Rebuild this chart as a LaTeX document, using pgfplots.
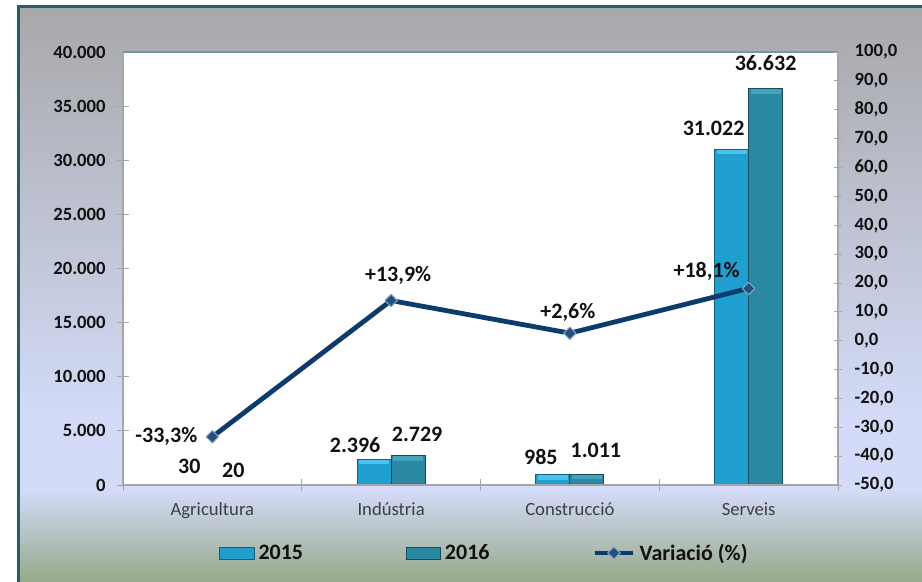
\documentclass[border=0pt]{standalone}
\usepackage{fontspec}
\setmainfont{Carlito}
\usepackage{pgfplots}
\pgfplotsset{compat=1.18}
\usepackage{pgfplotstable}

\definecolor{bandgray}{HTML}{A8A8AA}
\definecolor{lav}{HTML}{D3DBF8}
\definecolor{sage}{HTML}{96A889}
\definecolor{frame}{HTML}{245E6B}
\definecolor{topedge}{HTML}{6E9AA2}
\definecolor{cA}{HTML}{1E9FCF}
\definecolor{cB}{HTML}{2B88A2}
\definecolor{bevA}{HTML}{4CC3EC}
\definecolor{bevB}{HTML}{42A3BD}
\definecolor{navy}{HTML}{0E3B6E}
\definecolor{mk}{HTML}{24507F}
\definecolor{mkedge}{HTML}{8AA6C0}
\definecolor{ink}{HTML}{111111}
\definecolor{cat}{HTML}{404040}

\pgfplotsset{
  linelegend/.style={legend image code/.code={%
    \draw[##1, mark repeat=2, mark phase=2] plot coordinates {(0pt,0pt) (14.5pt,0pt) (29pt,0pt)};}},
  barlabels/.style={
    nodes near coords={\pgfmathprintnumber[assume math mode=true,1000 sep={.}]{\pgfplotspointmeta}},
    visualization depends on={\thisrow{dx}\as\dx},
    visualization depends on={\thisrow{rise}\as\rise},
    every node near coord/.append style={font=\fontsize{16.5}{18}\selectfont\bfseries, text=ink,
      anchor=center, xshift=\dx*0.75pt, yshift=\rise*0.75pt}},
  bevel/.style={sharp plot, only marks, mark=-, mark size=11.3pt,
    skip coords between index={0}{1}},
}

% employed: x, value, label shift (px), rise above bar top (px)
\pgfplotstableread{
x y dx rise
0 30 -6 18
1 2396 -19 14
2 985 -12 17
3 31022 -18 21
}\tabA
\pgfplotstableread{
x y dx rise
0 20 4 14
1 2729 9 21
2 1011 9 24
3 36632 0 25
}\tabB
% variation, %
\pgfplotstableread{
x y lab dx dy
0 -33.3 -33,3 -46 0
1 13.9 +13,9 7 -25
2 2.6 +2,6 -2 -21
3 18.1 +18,1 -42 -17
}\tabL

\begin{document}
\begin{tikzpicture}
\useasboundingbox (0,0) rectangle (691.5pt,-436.5pt);
\fill[white] (0,0) rectangle (691.5pt,-436.5pt);
% chart area background
\shade[top color=bandgray, bottom color=lav] (13.5pt,-5pt) rectangle (691.5pt,-315pt);
\fill[lav] (13.5pt,-314.8pt) rectangle (691.5pt,-367.7pt);
\shade[top color=lav, bottom color=sage] (13.5pt,-367.5pt) rectangle (691.5pt,-436.5pt);
\draw[frame, line width=2.4pt] (14pt,-436.5pt) -- (14pt,-5pt) -- (691.5pt,-5pt);

\begin{axis}[
  at={(92.25pt,-363.75pt)}, anchor=south west,
  scale only axis, width=536.25pt, height=324.75pt,
  clip=false,
  ybar,
  xmin=-0.5, xmax=3.5, ymin=0, ymax=40000,
  xtick={-0.5,0.5,1.5,2.5,3.5}, xticklabels={},
  extra x ticks={0,1,2,3},
  extra x tick labels={Agricultura,Indústria,Construcció,Serveis},
  extra x tick style={major tick length=0pt,
    tick label style={font=\fontsize{14}{16}\selectfont, text=cat, yshift=-9.5pt}},
  ytick={0,5000,...,40000},
  scaled y ticks=false,
  xtick pos=bottom, ytick pos=left,
  tick align=center, major tick length=9pt,
  tick style={draw=black!35, line width=0.6pt},
  axis line style={draw=none},
  axis background/.style={fill=white},
  /pgf/number format/assume math mode=true,
  /pgf/number format/1000 sep={.},
  yticklabel style={font=\fontsize{14}{16}\selectfont\bfseries, text=ink, xshift=-5pt},
]
\addplot[fill=cA, draw=cA!60!black, line width=0.6pt, bar width=25.5pt, bar shift=-12.75pt, barlabels]
  table[x=x,y=y] {\tabA};
\addplot[fill=cB, draw=cB!55!black, line width=0.6pt, bar width=25.5pt, bar shift=12.75pt, barlabels]
  table[x=x,y=y] {\tabB};
% lighter bevel along the top of each bar
\addplot[bevel, mark options={xshift=-12.75pt, yshift=-2.2pt, draw=bevA, line width=3.4pt}]
  table[x=x,y=y] {\tabA};
\addplot[bevel, mark options={xshift=12.75pt, yshift=-2.2pt, draw=bevB, line width=3.4pt}]
  table[x=x,y=y] {\tabB};
\draw[black!35, line width=0.8pt] (rel axis cs:0,0) -- (rel axis cs:0,1);
\draw[black!35, line width=0.8pt] (rel axis cs:0,0) -- (rel axis cs:1,0);
\draw[topedge, line width=1.3pt] (rel axis cs:0,1) -- (rel axis cs:1,1);
\end{axis}

\begin{axis}[
  at={(92.25pt,-363.75pt)}, anchor=south west,
  scale only axis, width=536.25pt, height=324.75pt,
  clip=false,
  xmin=-0.5, xmax=3.5, ymin=-50, ymax=100,
  hide x axis,
  ytick={-50,-40,...,100},
  ytick pos=right,
  tick align=center, major tick length=6pt,
  tick style={draw=black!35, line width=0.6pt},
  axis line style={draw=none},
  /pgf/number format/.cd, fixed, fixed zerofill, precision=1, use comma, assume math mode=true,
  /pgfplots/.cd,
  yticklabel style={font=\fontsize{14}{16}\selectfont\bfseries, text=ink, xshift=6pt},
  legend columns=3,
  legend style={at={(0.506,-0.157)}, anchor=center, draw=none, fill=none,
    font=\fontsize{16.5}{18}\selectfont\bfseries, text=ink,
    nodes={inner sep=2pt},
    /tikz/every odd column/.append style={column sep=1pt},
    /tikz/every even column/.append style={column sep=75pt}},
]
\addlegendimage{legend image code/.code={\fill[cA] (0pt,-4.5pt) rectangle (26pt,4.5pt);
  \draw[cA!60!black, line width=0.4pt] (0pt,-4.5pt) rectangle (26pt,4.5pt);}}
\addlegendentry{2015}
\addlegendimage{legend image code/.code={\fill[cB] (0pt,-4.5pt) rectangle (26pt,4.5pt);
  \draw[cB!55!black, line width=0.4pt] (0pt,-4.5pt) rectangle (26pt,4.5pt);}}
\addlegendentry{2016}
\addplot[navy, line width=3.6pt, line join=round,
  mark=square*, mark size=3.3pt,
  mark options={rotate=45, fill=mk, draw=mkedge, line width=0.8pt},
  linelegend,
  point meta=explicit symbolic,
  nodes near coords={\pgfplotspointmeta\%},
  visualization depends on={\thisrow{dx}\as\dx},
  visualization depends on={\thisrow{dy}\as\dy},
  every node near coord/.append style={font=\fontsize{16.5}{18}\selectfont\bfseries,
    text=ink, anchor=center, xshift=\dx*0.75pt, yshift=-\dy*0.75pt}]
  table[x=x,y=y,meta=lab] {\tabL};
\addlegendentry{Variació (\%)}
\draw[black!35, line width=0.8pt] (rel axis cs:1,0) -- (rel axis cs:1,1);
\end{axis}
\end{tikzpicture}
\end{document}
